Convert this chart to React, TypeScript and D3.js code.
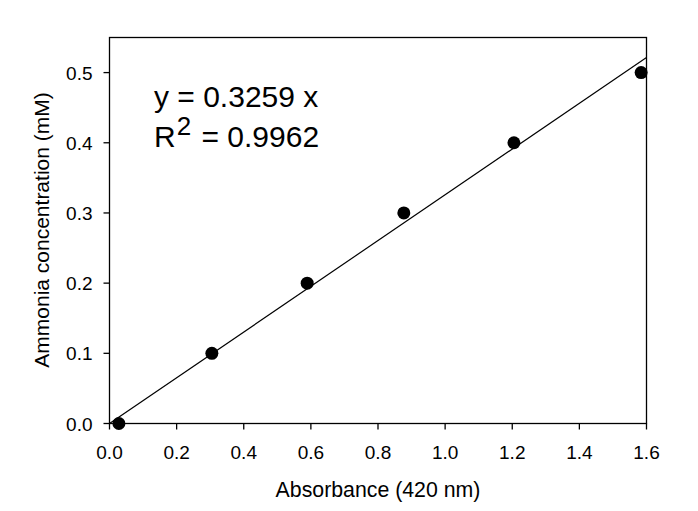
import React from "react";
import * as d3 from "d3";

const absorbance = [0.028, 0.305, 0.589, 0.877, 1.205, 1.584];
const concentration = [0.0, 0.1, 0.2, 0.3, 0.4, 0.5];
const xTicks = [0, 0.2, 0.4, 0.6, 0.8, 1.0, 1.2, 1.4, 1.6];
const yTicks = [0, 0.1, 0.2, 0.3, 0.4, 0.5];
const slope = 0.3259;
const fitRange = [0, 1.6];

export default function App() {
  const W = 698, H = 511;
  const left = 109.5, right = 646.5, top = 37.5, bottom = 423.5;
  const x = d3.scaleLinear().domain([0, 1.6]).range([left, right]);
  const y = d3.scaleLinear().domain([0, 0.55]).range([bottom, top]);
  const font = "Arial, 'Liberation Sans', sans-serif";
  const line = d3.line<number>().x((d) => x(d)).y((d) => y(slope * d));
  return (
    <svg width={W} height={H} style={{ position: "absolute", left: 0, top: 0 }} fontFamily={font}>
      <rect x={0} y={0} width={W} height={H} fill="#fff" />
      <rect x={left} y={top} width={right - left} height={bottom - top} fill="none" stroke="#000" strokeWidth={1.3} />
      {xTicks.map((t) => (
        <g key={"x" + t}>
          <line x1={x(t)} x2={x(t)} y1={bottom} y2={bottom + 6} stroke="#000" strokeWidth={1.3} />
          <text x={x(t)} y={459} textAnchor="middle" fontSize={19}>{t.toFixed(1)}</text>
        </g>
      ))}
      {yTicks.map((t) => (
        <g key={"y" + t}>
          <line x1={left - 6} x2={left} y1={y(t)} y2={y(t)} stroke="#000" strokeWidth={1.3} />
          <text x={left - 17} y={y(t) + 7} textAnchor="end" fontSize={19}>{t.toFixed(1)}</text>
        </g>
      ))}
      <path d={line(fitRange) || ""} fill="none" stroke="#000" strokeWidth={1.2} />
      {absorbance.map((a, i) => (
        <circle key={i} cx={x(a)} cy={y(concentration[i])} r={6.5} fill="#000" />
      ))}
      <text x={378} y={497} textAnchor="middle" fontSize={21.3}>Absorbance (420 nm)</text>
      <text transform={`translate(49,230) rotate(-90)`} textAnchor="middle" fontSize={21}>Ammonia concentration (mM)</text>
      <text x={154} y={107} fontSize={30}>y = 0.3259 x</text>
      <text x={154} y={147} fontSize={30}>R<tspan dx={1} dy={-12} fontSize={26}>2</tspan><tspan dx={2} dy={12}> = 0.9962</tspan></text>
    </svg>
  );
}
